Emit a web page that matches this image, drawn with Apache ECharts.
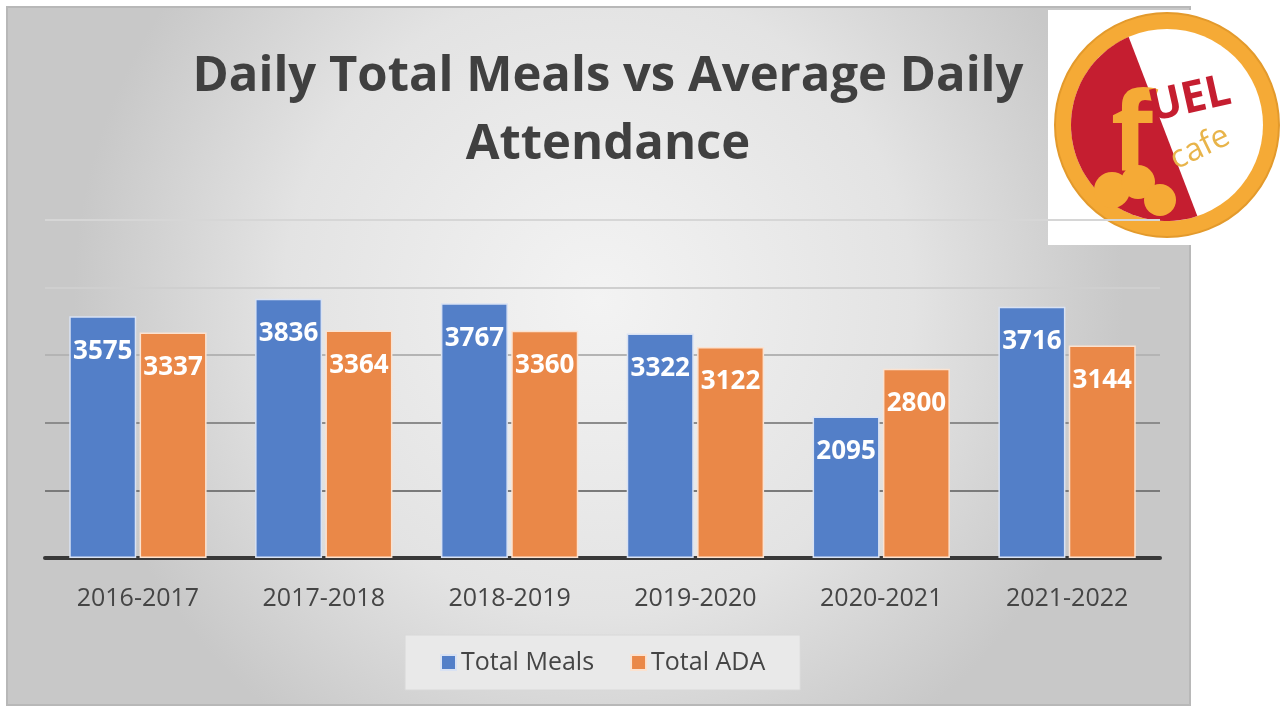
<!DOCTYPE html>
<html>
<head>
<meta charset="utf-8">
<script src="https://cdn.jsdelivr.net/npm/echarts@6/dist/echarts.min.js"></script>
<style>
  html, body { margin: 0; padding: 0; background: #fff; }
  #chart { width: 1285px; height: 708px; }
</style>
</head>
<body>
<div id="chart"></div>
<script>
// data
var years = ['2016-2017', '2017-2018', '2018-2019', '2019-2020', '2020-2021', '2021-2022'];
var totalMeals = [3575, 3836, 3767, 3322, 2095, 3716];
var totalADA = [3337, 3364, 3360, 3122, 2800, 3144];
var seriesNames = ['Total Meals', 'Total ADA'];

var font = 'Open Sans';

// logo red region: arc of the inner circle cut by a diagonal chord
function redShape(cx, cy, r) {
    var pts = [];
    var a0 = Math.atan2(-85, -37);   // upper end of the chord
    var a1 = Math.atan2(90, 30);     // lower end of the chord
    if (a0 < 0) a0 += Math.PI * 2;
    for (var a = a1; a <= a0; a += 0.05) {
        pts.push([cx + r * Math.cos(a), cy + r * Math.sin(a)]);
    }
    pts.push([cx + r * Math.cos(a0), cy + r * Math.sin(a0)]);
    return pts;
}

var barLabel = {
    show: true,
    position: 'insideTop',
    distance: 22,
    color: '#fff',
    fontFamily: font,
    fontWeight: 'bold',
    fontSize: 26
};

var chart = echarts.init(document.getElementById('chart'));
var option = {
    backgroundColor: '#fff',
    animation: false,
    textStyle: { fontFamily: font },
    title: {
        text: 'Daily Total Meals vs Average Daily\nAttendance',
        left: 603,
        top: 38,
        textAlign: 'center',
        textStyle: {
            fontFamily: font,
            fontSize: 49,
            fontWeight: 'bold',
            color: '#404040',
            lineHeight: 68
        }
    },
    legend: {
        data: seriesNames,
        left: 405,
        top: 635,
        padding: [15, 35, 15, 35],
        itemWidth: 15,
        itemHeight: 15,
        itemGap: 36,
        backgroundColor: '#e9e9e9',
        borderColor: '#d8d8d8',
        borderWidth: 1,
        icon: 'rect',
        textStyle: { fontFamily: font, fontSize: 25, color: '#454545' }
    },
    grid: { left: 45, right: 125, top: 220, bottom: 150 },
    xAxis: {
        type: 'category',
        data: years,
        axisLine: { lineStyle: { color: '#383838', width: 4 } },
        axisTick: { show: false },
        axisLabel: { fontFamily: font, fontSize: 25, color: '#454545', margin: 28 }
    },
    yAxis: {
        type: 'value',
        min: 0,
        max: 5000,
        interval: 1000,
        axisLabel: { show: false },
        axisLine: { show: false },
        axisTick: { show: false },
        splitLine: {
            lineStyle: {
                color: ['#383838', '#7a7a7a', '#8c8c8c', '#b4b4b4', '#cfcfcf', '#d6d6d6'],
                width: 2
            }
        }
    },
    series: [
        {
            name: seriesNames[0],
            type: 'bar',
            data: totalMeals,
            barWidth: 67,
            barGap: '5%',
            itemStyle: { color: '#537fc8', borderColor: '#d9e2f3', borderWidth: 1.5 },
            label: barLabel
        },
        {
            name: seriesNames[1],
            type: 'bar',
            data: totalADA,
            barWidth: 67,
            barGap: '5%',
            itemStyle: { color: '#ea8848', borderColor: '#fbe2d0', borderWidth: 1.5 },
            label: barLabel
        }
    ],
    graphic: [
        {
            type: 'rect',
            z: -10,
            silent: true,
            shape: { x: 7, y: 7, width: 1183, height: 698 },
            style: {
                fill: new echarts.graphic.RadialGradient(0.5, 0.42, 0.75, [
                    { offset: 0, color: '#f3f3f3' },
                    { offset: 0.6, color: '#e3e3e3' },
                    { offset: 1, color: '#c8c8c8' }
                ]),
                stroke: '#b8b8b8',
                lineWidth: 2
            }
        },
        {
            type: 'group',
            z: 100,
            children: [
                { type: 'rect', shape: { x: 1048, y: 10, width: 237, height: 235 }, style: { fill: '#fff' } },
                { type: 'circle', shape: { cx: 1167, cy: 125, r: 112 }, style: { fill: '#f5aa36', stroke: '#e39a2c', lineWidth: 2 } },
                { type: 'circle', shape: { cx: 1167, cy: 125, r: 96 }, style: { fill: '#fff' } },
                { type: 'polygon', shape: { points: redShape(1167, 125, 96) }, style: { fill: '#c51e30' } },
                { type: 'text', x: 1132, y: 140, style: { text: 'f', fill: '#f5aa36', fontFamily: font, fontSize: 110, fontWeight: 'bold', align: 'center', verticalAlign: 'middle' } },
                { type: 'text', x: 1190, y: 100, rotation: 0.22, style: { text: 'UEL', fill: '#c51e30', fontFamily: font, fontSize: 44, fontWeight: 'bold', align: 'center', verticalAlign: 'middle' } },
                { type: 'text', x: 1200, y: 148, rotation: 0.45, style: { text: 'cafe', fill: '#e8b44a', fontFamily: font, fontSize: 32, align: 'center', verticalAlign: 'middle' } },
                { type: 'circle', shape: { cx: 1112, cy: 190, r: 18 }, style: { fill: '#f5aa36' } },
                { type: 'circle', shape: { cx: 1138, cy: 182, r: 17 }, style: { fill: '#f5aa36' } },
                { type: 'circle', shape: { cx: 1160, cy: 200, r: 16 }, style: { fill: '#f5aa36' } }
            ]
        }
    ]
};
chart.setOption(option);
</script>
</body>
</html>
